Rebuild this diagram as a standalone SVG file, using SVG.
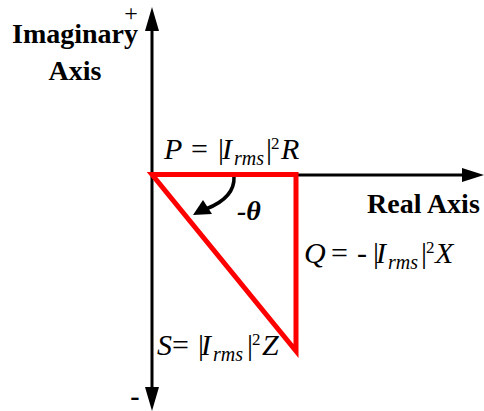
<svg xmlns="http://www.w3.org/2000/svg" width="484" height="411" viewBox="0 0 484 411">
<style>
text{font-family:"Liberation Serif","Times New Roman","DejaVu Serif",serif;fill:#000}
.b{font-weight:bold;font-size:28px}
.m{font-style:italic;font-size:30px}
.n{font-style:normal}
.s{font-size:20px}
.p{font-size:17px;font-style:normal}
.ax{stroke:#000;stroke-width:3;fill:none}
.tri{stroke:#ff0000;stroke-width:5;fill:none;stroke-linejoin:miter}
</style>
<rect width="484" height="411" fill="#fff"/>
<g id="connectors">
<line class="ax" x1="152" y1="395" x2="152" y2="28"/>
<polygon points="152,7 145,31 159,31" fill="#000"/>
<polygon points="152,411 145,387 159,387" fill="#000"/>
<line class="ax" x1="152" y1="175" x2="466" y2="175"/>
<polygon points="484,175 462,168 462,182" fill="#000"/>
<path d="M234,176 C235,192 224,202 206,209" stroke="#000" stroke-width="3.5" fill="none"/>
<polygon points="193,215 203,200 212,214" fill="#000"/>
</g>
<g id="triangle">
<path class="tri" d="M152,174.5 L296,174.5 L296,351 Z"/>
</g>
<g id="imag-label">
<text class="b" x="75" y="43" text-anchor="middle">Imaginary</text>
<text class="b" x="75" y="80" text-anchor="middle">Axis</text>
<text x="131" y="21" font-size="24" text-anchor="middle">+</text>
<text class="b" x="135" y="405" font-size="26" text-anchor="middle">-</text>
</g>
<g id="real-label">
<text class="b" x="367" y="213">Real Axis</text>
</g>
<g id="theta">
<text class="b" x="237" y="220" font-style="italic" font-size="24">-θ</text>
</g>
<g id="P">
<text class="m" y="159"><tspan x="164">P</tspan><tspan class="n" x="191">=</tspan><tspan class="n" x="218">|</tspan><tspan x="222">I</tspan><tspan class="s" x="234" y="165">rms</tspan><tspan class="n" x="266" y="159">|</tspan><tspan class="p" x="271" y="149">2</tspan><tspan x="281" y="159">R</tspan></text>
</g>
<g id="Q">
<text class="m" y="263"><tspan x="304">Q</tspan><tspan class="n" x="331">=</tspan><tspan class="n" x="357">-</tspan><tspan class="n" x="373">|</tspan><tspan x="376">I</tspan><tspan class="s" x="388" y="269">rms</tspan><tspan class="n" x="421" y="263">|</tspan><tspan class="p" x="426" y="253">2</tspan><tspan x="435" y="263">X</tspan></text>
</g>
<g id="S">
<text class="m" y="355"><tspan x="157">S</tspan><tspan class="n" x="172">=</tspan><tspan class="n" x="198">|</tspan><tspan x="201">I</tspan><tspan class="s" x="213" y="361">rms</tspan><tspan class="n" x="247" y="355">|</tspan><tspan class="p" x="252" y="345">2</tspan><tspan x="262" y="355">Z</tspan></text>
</g>
</svg>
